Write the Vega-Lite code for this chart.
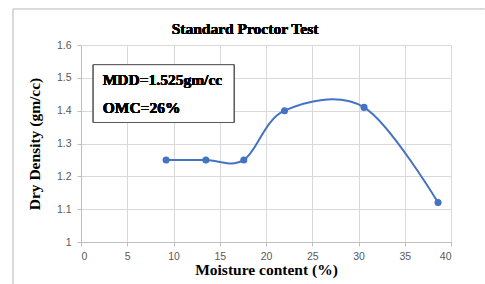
{
  "$schema": "https://vega.github.io/schema/vega-lite/v6.json",
  "width": 370,
  "height": 197,
  "autosize": {"type": "none"},
  "padding": {"left": 81, "top": 45, "right": 34, "bottom": 42},
  "background": "white",
  "data": {
    "values": [
      {"moisture": 9.2, "density": 1.25},
      {"moisture": 13.5, "density": 1.25},
      {"moisture": 17.6, "density": 1.25},
      {"moisture": 22.0, "density": 1.40},
      {"moisture": 30.6, "density": 1.41},
      {"moisture": 38.6, "density": 1.12}
    ]
  },
  "config": {
    "view": {"stroke": null},
    "axis": {
      "labelFont": "Liberation Sans",
      "labelFontSize": 10.5,
      "labelColor": "#595959",
      "titleFont": "Liberation Serif",
      "titleFontSize": 15.5,
      "titleFontWeight": "bold",
      "titleColor": "#000000",
      "gridColor": "#d9d9d9",
      "gridWidth": 1,
      "domainColor": "#bfbfbf",
      "tickColor": "#bfbfbf",
      "tickSize": 4
    }
  },
  "encoding": {
    "x": {
      "field": "moisture",
      "type": "quantitative",
      "scale": {"domain": [0, 40], "nice": false, "zero": false},
      "axis": {"values": [0, 5, 10, 15, 20, 25, 30, 35, 40], "title": "Moisture content (%)", "labelPadding": 5, "titlePadding": 1}
    },
    "y": {
      "field": "density",
      "type": "quantitative",
      "scale": {"domain": [1, 1.6], "nice": false, "zero": false},
      "axis": {"values": [1, 1.1, 1.2, 1.3, 1.4, 1.5, 1.6], "format": ".1~f", "title": "Dry Density (gm/cc)", "labelPadding": 6, "titlePadding": 14}
    }
  },
  "layer": [
    {
      "mark": {"type": "rule", "color": "#d9d9d9", "strokeWidth": 1},
      "encoding": {
        "x": {"datum": -7.35},
        "x2": {"datum": 43.6},
        "y": {"datum": 1.71},
        "y2": {"datum": 1.71}
      }
    },
    {
      "mark": {"type": "rule", "color": "#d9d9d9", "strokeWidth": 1},
      "encoding": {
        "x": {"datum": -7.35},
        "x2": {"datum": -7.35},
        "y": {"datum": 1.71},
        "y2": {"datum": 0.85}
      }
    },
    {
      "mark": {"type": "text", "font": "Liberation Serif", "fontSize": 15.5, "fontWeight": "bold", "align": "center", "baseline": "middle", "color": "#000000"},
      "encoding": {
        "x": {"datum": 17.73},
        "y": {"datum": 1.649},
        "text": {"value": "Standard Proctor Test"}
      }
    },
    {
      "mark": {"type": "line", "interpolate": "cardinal", "color": "#4472c4", "strokeWidth": 2}
    },
    {
      "mark": {"type": "point", "filled": true, "color": "#4472c4", "size": 50, "opacity": 1}
    },
    {
      "mark": {"type": "rect", "fill": "white", "stroke": "#595959", "strokeWidth": 1},
      "encoding": {
        "x": {"datum": 1.33},
        "x2": {"datum": 16.54},
        "y": {"datum": 1.54},
        "y2": {"datum": 1.364}
      }
    },
    {
      "mark": {"type": "text", "font": "Liberation Serif", "fontSize": 15.5, "fontWeight": "bold", "align": "left", "baseline": "middle", "color": "#000000"},
      "encoding": {
        "x": {"datum": 2.35},
        "y": {"datum": 1.494},
        "text": {"value": "MDD=1.525gm/cc"}
      }
    },
    {
      "mark": {"type": "text", "font": "Liberation Serif", "fontSize": 15.5, "fontWeight": "bold", "align": "left", "baseline": "middle", "color": "#000000"},
      "encoding": {
        "x": {"datum": 2.35},
        "y": {"datum": 1.408},
        "text": {"value": "OMC=26%"}
      }
    }
  ]
}
